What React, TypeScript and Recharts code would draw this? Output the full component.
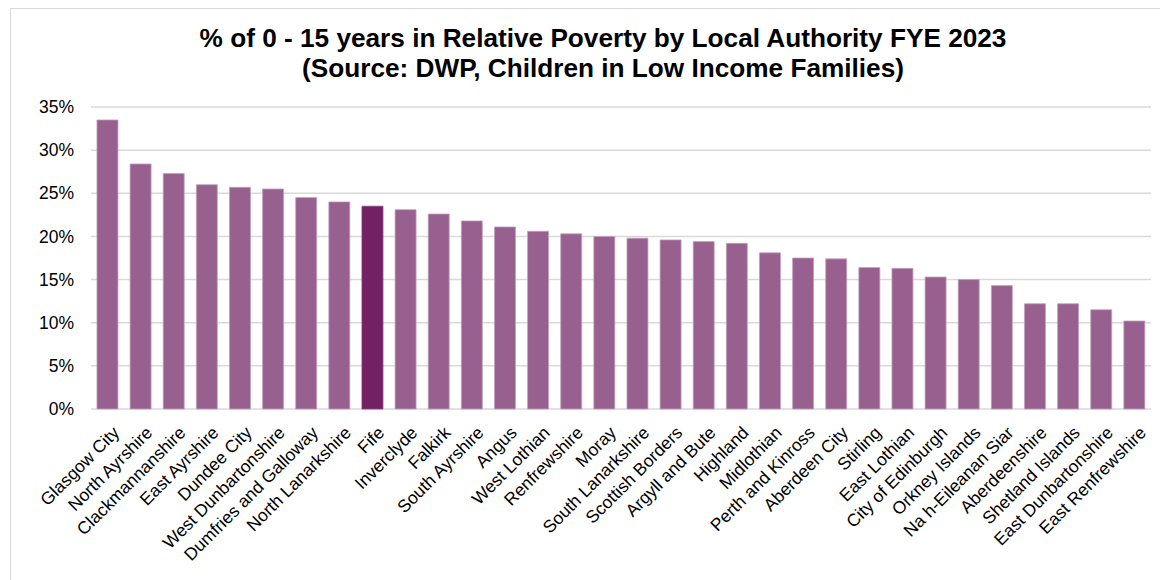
import { Bar, BarChart, CartesianGrid, Cell, XAxis, YAxis } from "recharts";

const authorities = [
  "Glasgow City",
  "North Ayrshire",
  "Clackmannanshire",
  "East Ayrshire",
  "Dundee City",
  "West Dunbartonshire",
  "Dumfries and Galloway",
  "North Lanarkshire",
  "Fife",
  "Inverclyde",
  "Falkirk",
  "South Ayrshire",
  "Angus",
  "West Lothian",
  "Renfrewshire",
  "Moray",
  "South Lanarkshire",
  "Scottish Borders",
  "Argyll and Bute",
  "Highland",
  "Midlothian",
  "Perth and Kinross",
  "Aberdeen City",
  "Stirling",
  "East Lothian",
  "City of Edinburgh",
  "Orkney Islands",
  "Na h-Eileanan Siar",
  "Aberdeenshire",
  "Shetland Islands",
  "East Dunbartonshire",
  "East Renfrewshire",
];

const povertyPct = [
  33.5, 28.4, 27.3, 26.0, 25.7, 25.5, 24.5, 24.0, 23.5, 23.1, 22.6, 21.8, 21.1,
  20.6, 20.3, 20.0, 19.8, 19.6, 19.4, 19.2, 18.1, 17.5, 17.4, 16.4, 16.3, 15.3,
  15.0, 14.3, 12.2, 12.2, 11.5, 10.2,
];

const yTicks = [0, 5, 10, 15, 20, 25, 30, 35];

const highlighted = "Fife";

const data = authorities.map((name, i) => ({ name, value: povertyPct[i] }));

const FONT = "'Liberation Sans', Arial, sans-serif";

// rotated category label, top-right corner sits just under the bar
const XTick = ({ x, y, payload }: any) => (
  <g transform={`translate(${x + 4},${y + 14})`}>
    <text
      transform="rotate(-45)"
      textAnchor="end"
      dy="0.71em"
      fontSize={17.5}
      fontFamily={FONT}
      fill="#000"
    >
      {payload.value}
    </text>
  </g>
);

export default function App() {
  return (
    <div>
      <div
        style={{
          position: "fixed",
          left: 10,
          top: 8,
          width: 1160,
          height: 580,
          borderLeft: "1.5px solid #d9d9d9",
          borderTop: "1.5px solid #d9d9d9",
          background: "#fff",
        }}
      />
      <div
        style={{
          position: "fixed",
          left: 10,
          top: 23,
          width: 1186,
          textAlign: "center",
          fontFamily: FONT,
          fontWeight: "bold",
          fontSize: 26.2,
          lineHeight: "30px",
          color: "#000",
        }}
      >
        <div>% of 0 - 15 years in Relative Poverty by Local Authority FYE 2023</div>
        <div>(Source: DWP, Children in Low Income Families)</div>
      </div>
      <div style={{ position: "fixed", left: 10, top: 8 }}>
        <BarChart
          width={1150}
          height={572}
          data={data}
          margin={{ top: 99, right: 9, left: 0, bottom: 0 }}
          barCategoryGap="18%"
        >
          <CartesianGrid vertical={false} stroke="#d9d9d9" strokeWidth={1.5} />
          <XAxis
            dataKey="name"
            interval={0}
            height={171}
            tick={<XTick />}
            tickLine={false}
            axisLine={false}
            tickSize={0}
          />
          <YAxis
            width={81}
            domain={[0, 35]}
            ticks={yTicks}
            tickFormatter={(v: number) => `${v}%`}
            tick={{ fontSize: 17.5, fill: "#000", fontFamily: FONT }}
            tickLine={false}
            axisLine={false}
            tickSize={6}
            tickMargin={11}
          />
          <Bar dataKey="value" isAnimationActive={false} strokeWidth={0.8}>
            {data.map((d) => (
              <Cell
                key={d.name}
                fill={d.name === highlighted ? "#722264" : "#97608f"}
                stroke={d.name === highlighted ? "#8a3f7c" : "#c4a2bf"}
              />
            ))}
          </Bar>
        </BarChart>
      </div>
    </div>
  );
}
